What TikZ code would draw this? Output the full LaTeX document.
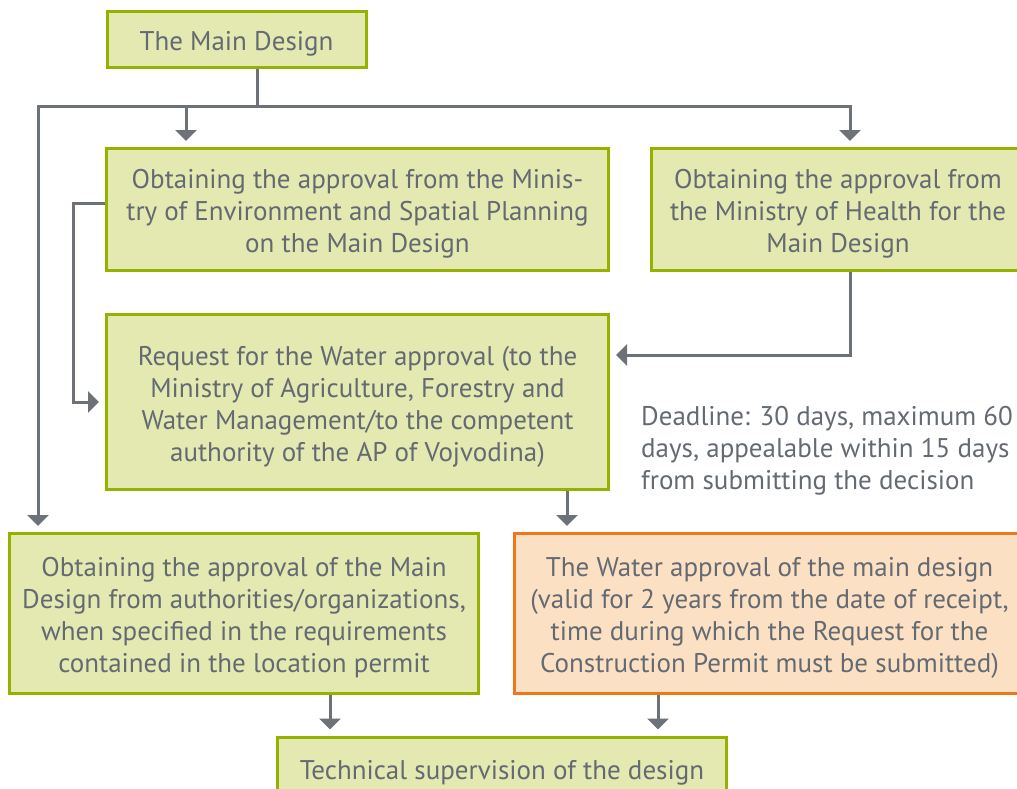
\documentclass[tikz,border=0pt]{standalone}
\usepackage{fontspec}
\setmainfont{PT Sans}
\usetikzlibrary{arrows.meta}

\definecolor{boxgreen}{RGB}{150,178,0}
\definecolor{fillgreen}{RGB}{227,233,176}
\definecolor{boxorange}{RGB}{240,118,24}
\definecolor{fillorange}{RGB}{252,224,196}
\definecolor{txtgray}{RGB}{100,106,114}
\definecolor{linegray}{RGB}{109,113,120}

% lifts the first line so that the text sits a little lower in its box
\newcommand{\txtlift}{\rule{0pt}{28pt}}

\begin{document}
\begin{tikzpicture}[x=1pt,y=-1pt,
	txt/.style={inner sep=0pt, text=txtgray, font=\fontsize{27}{32}\selectfont},
	stepbox/.style={txt, draw=boxgreen, fill=fillgreen, line width=3pt, align=center},
	waterbox/.style={stepbox, draw=boxorange, fill=fillorange},
	link/.style={draw=linegray, line width=3pt},
	pile/.style={link, -{Triangle[width=21pt,length=11pt]}, shorten >=6pt}]

	\useasboundingbox (0,0) rectangle (1017,788);

	% Boxes
	\node[stepbox, minimum width=259, minimum height=56] (main) at (236.5,39.5) {\txtlift The Main Design};
	\node[stepbox, minimum width=502, minimum height=122] (env) at (357.5,209.5) {\txtlift Obtaining the approval from the Minis-\\try of Environment and Spatial Planning\\on the Main Design};
	\node[stepbox, minimum width=373, minimum height=122] (health) at (838,209.5) {\txtlift Obtaining the approval from\\the Ministry of Health for the\\Main Design};
	\node[stepbox, minimum width=502, minimum height=175] (req) at (357.5,402) {\txtlift Request for the Water approval (to the\\Ministry of Agriculture, Forestry and\\Water Management/to the competent\\authority of the AP of Vojvodina)};
	\node[stepbox, minimum width=469, minimum height=160] (obtain) at (244,613.5) {\txtlift Obtaining the approval of the Main\\Design from authorities/organizations,\\when specified in the requirements\\contained in the location permit};
	\node[waterbox, minimum width=510, minimum height=160] (water) at (769.5,613.5) {\txtlift The Water approval of the main design\\(valid for 2 years from the date of receipt,\\time during which the Request for the\\Construction Permit must be submitted)};
	\node[stepbox, minimum width=449, minimum height=62] (tech) at (502,768) {\txtlift Technical supervision of the design};

	% Deadline note
	\node[txt, anchor=west, align=left] (deadline) at (641,446) {\txtlift Deadline: 30 days, maximum 60\\days, appealable within 15 days\\from submitting the decision};

	% Arrows from the main design
	\coordinate (split) at (257,106);
	\draw[link] (257,0 |- main.south) -- (split);
	\draw[pile] (split) -| (38,0 |- obtain.north);
	\draw[pile] (split) -| (850,0 |- health.north);
	\draw[pile] (split -| 186,0) -- (186,0 |- env.north);

	% Arrows to the water request
	\draw[pile] (env.west |- 0,203) -- (73,203) |- (req.west);
	\draw[pile] (850,0 |- health.south) |- (req.east |- 0,355);

	% Arrows to the technical supervision
	\draw[pile] (567,0 |- req.south) -- (567,0 |- water.north);
	\draw[pile] (330,0 |- obtain.south) -- (330,0 |- tech.north);
	\draw[pile] (658,0 |- water.south) -- (658,0 |- tech.north);

\end{tikzpicture}
\end{document}
